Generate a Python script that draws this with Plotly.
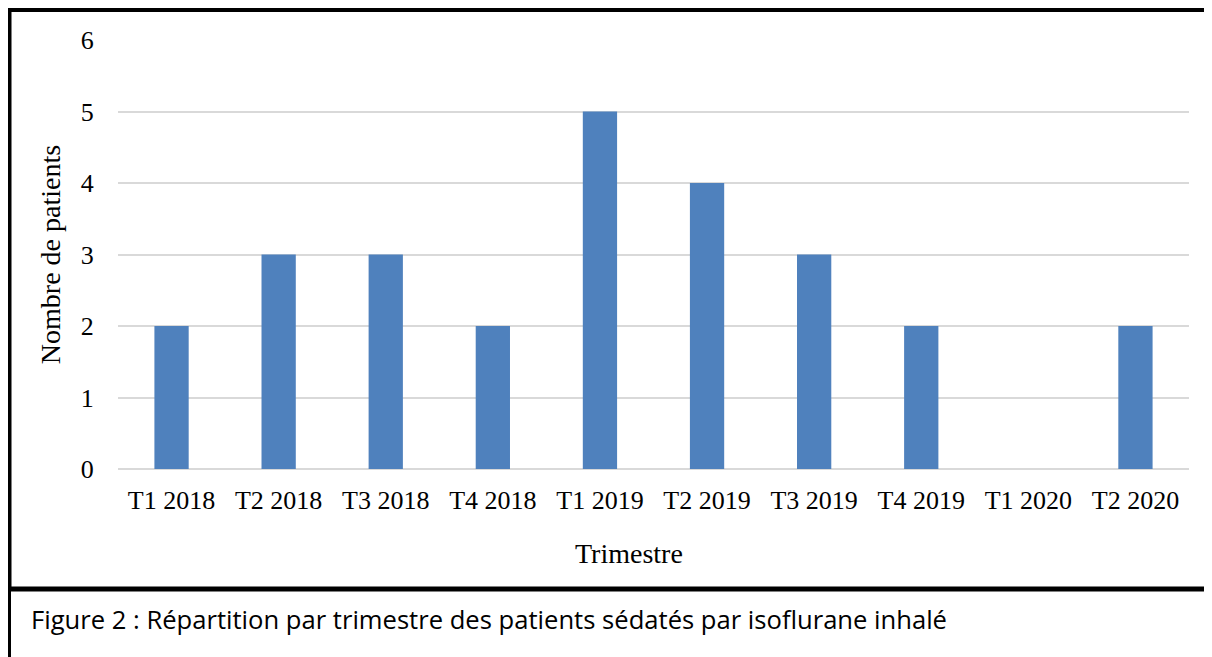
import plotly.graph_objects as go

# data
trimestres = ['T1 2018', 'T2 2018', 'T3 2018', 'T4 2018', 'T1 2019',
              'T2 2019', 'T3 2019', 'T4 2019', 'T1 2020', 'T2 2020']
patients = [2, 3, 3, 2, 5, 4, 3, 2, 0, 2]
y_ticks = [0, 1, 2, 3, 4, 5, 6]
caption = 'Figure 2 : Répartition par trimestre des patients sédatés par isoflurane inhalé'

OFF = 8  # the page body adds an 8px margin, so place everything 8px up/left
W, H = 1212 + OFF, 657 + OFF
L, R, T, B = 110, 39, 32, 204
pw, ph = W - L - R, H - T - B


# helpers: screen pixel -> paper coords
def px(x):
    return (x - OFF - L) / pw


def py(y):
    return (H - B - (y - OFF)) / ph


serif = 'Liberation Serif, Times New Roman, serif'

fig = go.Figure(go.Bar(x=trimestres, y=patients, marker_color='#4f81bd',
                       marker_line_width=0))

frame = dict(type='line', xref='paper', yref='paper', line=dict(color='black'))
fig.add_shape(frame, x0=px(6), x1=px(1230), y0=py(9.5), y1=py(9.5), line_width=5)
fig.add_shape(frame, x0=px(9), x1=px(9), y0=py(7), y1=py(591), line_width=5)
fig.add_shape(frame, x0=px(9.5), x1=px(9.5), y0=py(589), y1=py(670), line_width=3)
fig.add_shape(frame, x0=px(7), x1=px(1230), y0=py(589), y1=py(589), line_width=5)

# x title sits a bit left of the plot centre in the original
fig.add_annotation(text='Trimestre', xref='paper', yref='paper', x=px(628.5), y=py(553),
                   xanchor='center', yanchor='middle', showarrow=False,
                   font=dict(family=serif, size=28, color='black'))

fig.add_annotation(text=caption, xref='paper', yref='paper', x=px(29), y=py(619),
                   xanchor='left', yanchor='middle', showarrow=False,
                   font=dict(family='Open Sans, Noto Sans, sans-serif', size=25.6, color='black'))

fig.update_layout(
    width=W, height=H,
    margin=dict(l=L, r=R, t=T, b=B),
    paper_bgcolor='white', plot_bgcolor='white',
    bargap=0.68, showlegend=False,
    font=dict(family=serif, size=26, color='black'),
)
fig.update_xaxes(showgrid=False, ticks='outside', ticklen=8,
                 tickcolor='rgba(0,0,0,0)', showline=False, tickfont=dict(size=26))
fig.update_yaxes(title_text='Nombre de patients', title_font_size=28, range=[0, 6],
                 tickvals=y_ticks,
                 showgrid=True, gridcolor='#d9d9d9', gridwidth=2,
                 zeroline=True, zerolinecolor='#d9d9d9', zerolinewidth=2,
                 ticks='outside', ticklen=18, tickcolor='rgba(0,0,0,0)',
                 title_standoff=11, tickfont=dict(size=26))

fig.write_html('out.html')
